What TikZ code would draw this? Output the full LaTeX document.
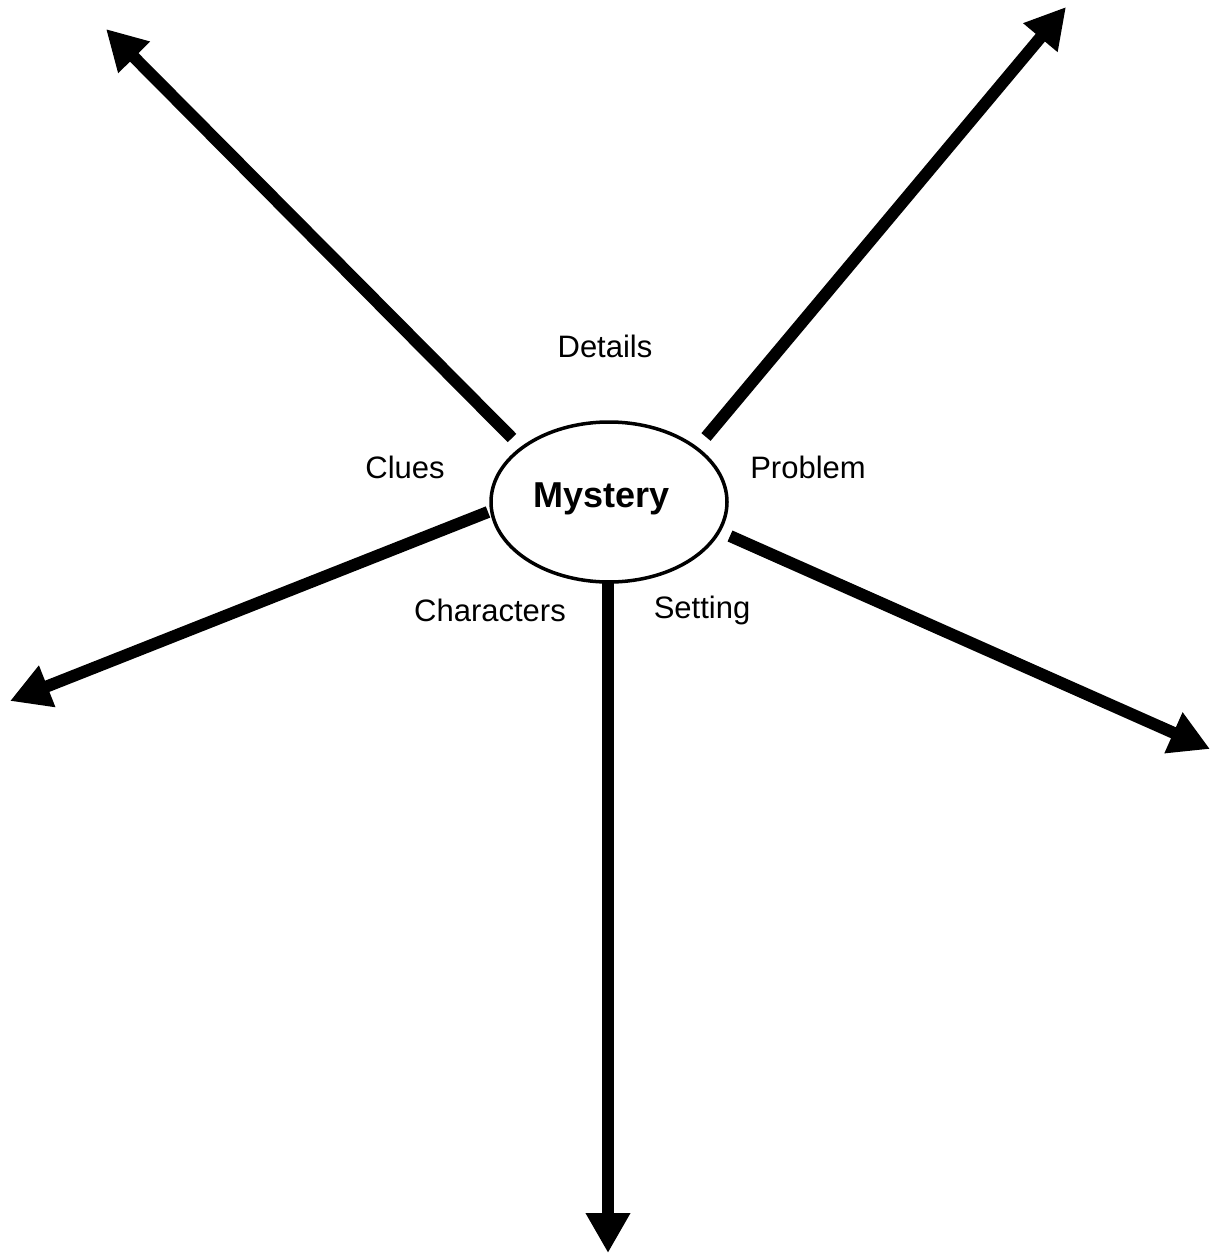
\documentclass[tikz,border=0pt]{standalone}
\usepackage{fontspec}
\setmainfont{Liberation Sans}
\usetikzlibrary{arrows.meta,shapes.geometric}
\begin{document}
\begin{tikzpicture}[x=1pt,y=-1pt,
  spoke/.style={line width=12pt,-{Triangle[length=40pt,width=42pt]}},
  lbl/.style={font=\fontsize{31}{36}\selectfont,inner sep=0pt},
  hub/.style={ellipse,draw,line width=3.5pt,minimum width=236pt,minimum height=160pt,inner sep=0pt,font=\bfseries\fontsize{36}{42}\selectfont}]
\useasboundingbox (0,0) rectangle (1214,1255);
\node[hub] (m) at (609,502) {\hspace*{-14pt}Mystery\rule[-14pt]{0pt}{0pt}};
\coordinate (s1) at (512,438);
\coordinate (s2) at (706,437);
\coordinate (s3) at (488,512);
\coordinate (s4) at (730,536);
\coordinate (s5) at (608,580);
\coordinate (e1) at (106,29);
\coordinate (e2) at (1066,7);
\coordinate (e3) at (10,701);
\coordinate (e4) at (1210,749);
\coordinate (e5) at (608,1253);
\draw[spoke] (s1) -- (e1);
\draw[spoke] (s2) -- (e2);
\draw[spoke] (s3) -- (e3);
\draw[spoke] (s4) -- (e4);
\draw[spoke] (s5) -- (e5);
\node[lbl] (d) at (605,346) {Details};
\node[lbl] (c) at (405,467) {Clues};
\node[lbl] (p) at (808,467) {Problem};
\node[lbl] (ch) at (490,610) {Characters};
\node[lbl] (st) at (702,610) {Setting};
\end{tikzpicture}
\end{document}
